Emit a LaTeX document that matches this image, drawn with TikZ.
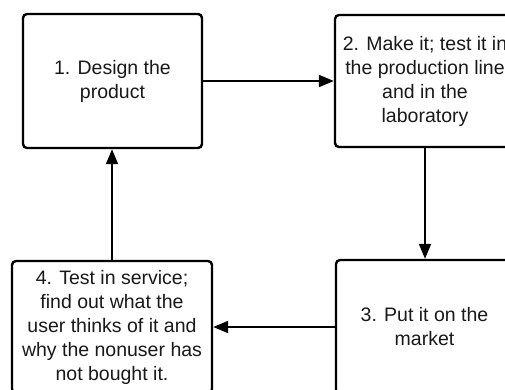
\documentclass[tikz,border=0pt]{standalone}
\usepackage{fontspec}
\setmainfont{Liberation Sans}
\usetikzlibrary{arrows.meta}
\begin{document}
\begin{tikzpicture}[x=1pt,y=-1pt,
  stagebox/.style={draw=black, line width=2.4pt, rounded corners=4pt, fill=white,
    align=center, inner sep=0pt, font=\fontsize{19.5}{24}\selectfont, text=black!90},
  flow/.style={draw=black, line width=1.9pt, -{Triangle[length=15pt,width=12pt]}}]
\useasboundingbox (0,0) rectangle (505,390);
\clip (0,0) rectangle (505,390);
\node[stagebox, minimum width=179pt, minimum height=134pt] (b1) at (112.5,81) {1. Design the\\product};
\node[stagebox, minimum width=180pt, minimum height=132pt] (b2) at (425,81) {2. Make it; test it in\\the production line\\and in the\\laboratory};
\node[stagebox, minimum width=177pt, minimum height=134pt] (b3) at (424.5,327) {3. Put it on the\\market};
\node[stagebox, minimum width=200pt, minimum height=132pt] (b4) at (112,327) {4. Test in service;\\find out what the\\user thinks of it and\\why the nonuser has\\not bought it.};
\draw[flow] (b1.east) -- (b2.west);
\draw[flow] (b2.south) -- (b2.south |- b3.north);
\draw[flow] (b3.west) -- (b3.west -| b4.east);
\draw[flow] (b4.north) -- (b4.north |- b1.south);
\end{tikzpicture}
\end{document}
